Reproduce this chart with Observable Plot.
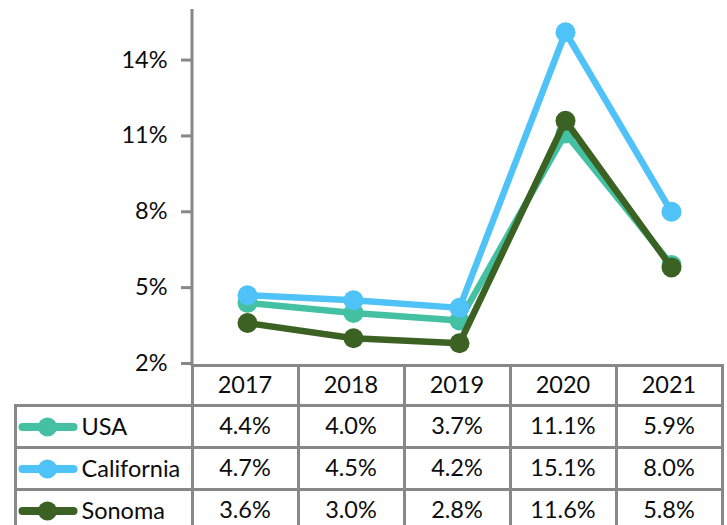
<!DOCTYPE html>
<html><head><meta charset="utf-8">
<script src="https://cdn.jsdelivr.net/npm/d3@7"></script>
<script src="https://cdn.jsdelivr.net/npm/@observablehq/plot@0.6"></script>
<style>
html,body{margin:0;padding:0;background:#fff;}
#wrap{position:relative;width:727px;height:525px;overflow:hidden;font-family:Lato,"Open Sans",sans-serif;}
#wrap > svg{display:block;}
#wrap table{position:absolute;border-collapse:collapse;table-layout:fixed;font-size:23.5px;color:#0d0d0d;font-family:Lato,"Open Sans",sans-serif;}
#wrap td{border:3px solid #888;padding:0;text-align:center;white-space:nowrap;overflow:visible;line-height:1;}
#wrap td.lab{text-align:left;}
#wrap td.lab svg{display:inline-block;vertical-align:middle;}
#wrap td.lab span{vertical-align:middle;margin-left:1px;}
</style></head><body><div id="wrap"></div>
<script>
const years = ["2017", "2018", "2019", "2020", "2021"];
const seriesNames = ["USA", "California", "Sonoma"];
const usa = [4.4, 4.0, 3.7, 11.1, 5.9];
const california = [4.7, 4.5, 4.2, 15.1, 8.0];
const sonoma = [3.6, 3.0, 2.8, 11.6, 5.8];
const seriesColors = ["#44c1a3", "#4fc2f7", "#3b6222"];
const yTicks = [2, 5, 8, 11, 14];

const seriesValues = [usa, california, sonoma];
const data = seriesNames.flatMap((s, i) => years.map((y, j) => ({series: s, year: y, value: seriesValues[i][j]})));

const axisLine = (index, scales, values, dims) => {
  const l = d3.create("svg:line")
    .attr("x1", dims.marginLeft).attr("x2", dims.marginLeft)
    .attr("y1", dims.marginTop).attr("y2", dims.height)
    .attr("stroke", "#888").attr("stroke-width", 3);
  return l.node();
};

const chart = Plot.plot({
  width: 727, height: 366,
  marginLeft: 192, marginRight: 1, marginTop: 9, marginBottom: 3,
  style: {fontFamily: "Lato, 'Open Sans', sans-serif", fontSize: "23.5px", background: "transparent", overflow: "visible", color: "#0d0d0d"},
  x: {type: "point", domain: years, padding: 0.5, axis: null},
  y: {domain: [2, 16], label: null},
  color: {domain: seriesNames, range: seriesColors},
  marks: [
    Plot.axisY({ticks: yTicks, tickFormat: d => d + "%", tickSize: 11, tickPadding: 14, stroke: "#888", strokeWidth: 3, fill: "#0d0d0d", fontSize: 23.5, label: null}),
    axisLine,
    ...seriesNames.flatMap(s => {
      const sd = data.filter(d => d.series === s);
      return [
        Plot.line(sd, {x: "year", y: "value", stroke: "series", strokeWidth: 6.5}),
        Plot.dot(sd, {x: "year", y: "value", fill: "series", r: 10})
      ];
    })
  ]
});

const wrap = document.getElementById("wrap");
wrap.appendChild(chart);

// data table below the chart, columns aligned with the x scale
const xs = chart.scale("x");
const step = xs.step;
const left0 = 15;
const firstW = xs.range[0] - left0;

const table = d3.select(wrap).append("table")
  .style("left", (left0 - 1.5) + "px")
  .style("top", "363.5px")
  .style("width", (firstW + step * years.length + 3) + "px");
const cg = table.append("colgroup");
cg.append("col").style("width", firstW + "px");
years.forEach(() => cg.append("col").style("width", step + "px"));

const head = table.append("tr").style("height", "40px");
head.append("td").style("border-top", "none").style("border-left", "none");
years.forEach(y => head.append("td").text(y));

seriesNames.forEach((s, i) => {
  const tr = table.append("tr").style("height", "42px");
  const lab = tr.append("td").attr("class", "lab");
  const key = lab.append("svg").attr("width", 64).attr("height", 24);
  key.append("line").attr("x1", 5.5).attr("x2", 56.5).attr("y1", 12).attr("y2", 12)
    .attr("stroke", seriesColors[i]).attr("stroke-width", 8).attr("stroke-linecap", "round");
  key.append("circle").attr("cx", 30.5).attr("cy", 12).attr("r", 9.5).attr("fill", seriesColors[i]);
  lab.append("span").text(s);
  seriesValues[i].forEach(v => tr.append("td").text(v.toFixed(1) + "%"));
});
</script>
</body></html>
